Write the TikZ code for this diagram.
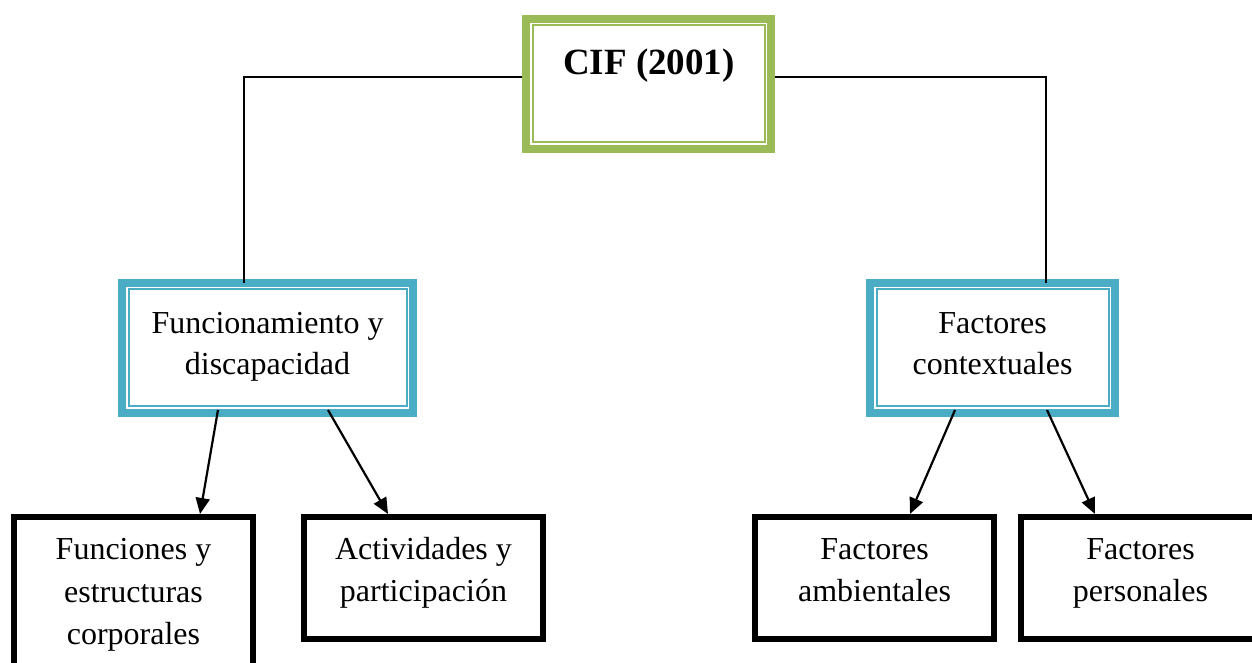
\documentclass[tikz,border=0pt]{standalone}
\usepackage{fontspec}
\setmainfont{Liberation Serif}
\usetikzlibrary{arrows.meta}
\definecolor{cifgreen}{HTML}{9BBB59}
\definecolor{cifblue}{HTML}{4BACC6}
\tikzset{
  greenbox/.style={draw=cifgreen, line width=8pt, inner sep=0pt, fill=white},
  bluebox/.style={draw=cifblue, line width=8pt, inner sep=0pt, fill=white},
  blackbox/.style={draw=black, line width=6pt, inner sep=0pt, fill=white},
  thinline/.style={line width=2pt},
  boxtext/.style={anchor=base, align=center, inner sep=0pt, font=\fontsize{32}{41}\selectfont},
  lowtext/.style={anchor=base, align=center, inner sep=0pt, font=\fontsize{32}{42.5}\selectfont},
  titletext/.style={anchor=base, inner sep=0pt, font=\fontsize{37}{44}\selectfont\bfseries},
  link/.style={line width=1.6pt},
  arrowlink/.style={line width=2.2pt, -{Triangle[length=16pt,width=14pt]}}
}
\begin{document}
\begin{tikzpicture}[x=1pt,y=1pt]
\path[use as bounding box, fill=white] (0,0) rectangle (1252,663);
% main boxes
\node[greenbox, minimum width=245pt, minimum height=130pt] (cif) at (648.5,579) {};
\draw[cifgreen, thinline] ([shift={(10.5,-10.5)}]cif.north west) rectangle ([shift={(-10.5,10.5)}]cif.south east);
\node[bluebox, minimum width=291pt, minimum height=130pt] (fd) at (267.5,315) {};
\draw[cifblue, thinline] ([shift={(10.5,-10.5)}]fd.north west) rectangle ([shift={(-10.5,10.5)}]fd.south east);
\node[bluebox, minimum width=245pt, minimum height=130pt] (fc) at (992.5,315) {};
\draw[cifblue, thinline] ([shift={(10.5,-10.5)}]fc.north west) rectangle ([shift={(-10.5,10.5)}]fc.south east);
% lower boxes
\node[blackbox, minimum width=239pt, minimum height=164pt] (b1) at (133.5,64) {};
\node[blackbox, minimum width=239pt, minimum height=122pt] (b2) at (423.5,85) {};
\node[blackbox, minimum width=239pt, minimum height=122pt] (b3) at (874.5,85) {};
\node[blackbox, minimum width=239pt, minimum height=122pt] (b4) at (1140.5,85) {};
% texts (base anchor = baseline of last line)
\node[titletext] (tcif) at (649,588) {CIF (2001)};
\node[boxtext] (tfd) at (267.5,288) {Funcionamiento y\\discapacidad};
\node[boxtext] (tfc) at (992.5,288) {Factores\\contextuales};
\node[lowtext] (tb1) at (133.5,18) {Funciones y\\estructuras\\corporales};
\node[lowtext] (tb2) at (423.5,61) {Actividades y\\participación};
\node[lowtext] (tb3) at (874.5,61) {Factores\\ambientales};
\node[lowtext] (tb4) at (1140.5,61) {Factores\\personales};
% connectors
\draw[link] ([yshift=7pt]cif.west) -| ([xshift=-23.5pt,yshift=-4pt]fd.north);
\draw[link] ([yshift=7pt]cif.east) -| ([xshift=53.5pt,yshift=-4pt]fc.north);
\draw[arrowlink] ([xshift=-49.5pt,yshift=7pt]fd.south) -- ([xshift=66.5pt]b1.north);
\draw[arrowlink] ([xshift=60.5pt,yshift=7pt]fd.south) -- ([xshift=-35.5pt]b2.north);
\draw[arrowlink] ([xshift=-37.5pt,yshift=7pt]fc.south) -- ([xshift=35.5pt]b3.north);
\draw[arrowlink] ([xshift=54.5pt,yshift=7pt]fc.south) -- ([xshift=-45.5pt]b4.north);
\end{tikzpicture}
\end{document}
